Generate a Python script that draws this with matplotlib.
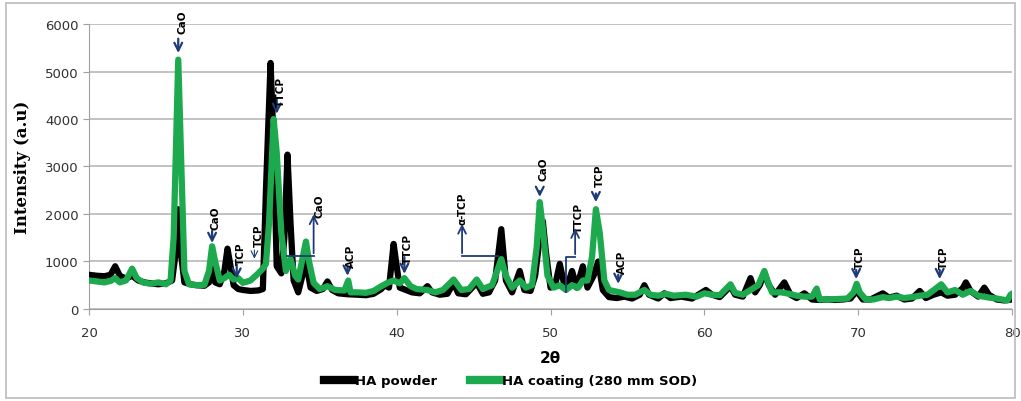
import matplotlib
matplotlib.use('Agg')
import matplotlib.pyplot as plt
from matplotlib.patches import Rectangle

# HA powder (black)
powder_x = [20.0, 20.5, 21.0, 21.4, 21.7, 22.0, 22.4, 22.8, 23.2, 23.6, 24.0, 24.5, 25.0, 25.4,
            25.6, 25.8, 26.0, 26.2, 26.6, 27.0, 27.5, 27.8, 28.0, 28.2, 28.5, 28.8, 29.0, 29.2,
            29.4, 29.7, 30.0, 30.5, 31.0, 31.3, 31.5, 31.8, 32.0, 32.2, 32.5, 32.7, 32.9, 33.1,
            33.3, 33.6, 34.1, 34.4, 34.8, 35.2, 35.5, 35.8, 36.2, 36.8, 37.5, 38.0, 38.5, 39.0,
            39.2, 39.5, 39.8, 40.0, 40.2, 40.6, 41.0, 41.5, 42.0, 42.3, 42.8, 43.3, 43.7, 44.0,
            44.5, 45.2, 45.6, 46.0, 46.4, 46.8, 47.1, 47.5, 48.0, 48.3, 48.7, 49.0, 49.3, 49.5,
            49.7, 50.0, 50.3, 50.6, 50.9, 51.2, 51.4, 51.7, 52.1, 52.4, 52.8, 53.1, 53.4, 53.8,
            54.3, 54.8, 55.3, 55.8, 56.1, 56.4, 57.0, 57.4, 57.8, 58.5, 59.2, 59.8, 60.1, 60.5,
            61.0, 61.7, 62.0, 62.5, 63.0, 63.3, 63.6, 63.9, 64.2, 64.6, 65.2, 65.6, 66.0, 66.5,
            67.0, 67.5, 68.0, 68.5, 69.0, 69.5, 69.9, 70.3, 70.8, 71.6, 72.0, 72.5, 73.0, 73.5,
            74.0, 74.4, 74.9, 75.4, 75.8, 76.3, 76.8, 77.0, 77.3, 77.8, 78.2, 78.5, 79.0, 79.5,
            80.0]
powder_y = [720, 700, 690, 720, 900, 700, 640, 700, 600, 560, 540, 520, 540, 600,
            1100, 2100, 1100, 560, 520, 500, 490, 560, 900, 560, 520, 800, 1270, 900,
            500, 420, 400, 380, 390, 420, 2500, 5180, 3500, 900, 750, 1500, 3250, 1800,
            600, 350, 1000, 450, 380, 420, 580, 400, 330, 310, 300, 290, 320, 420,
            500, 450, 1370, 900, 450, 400, 350, 330, 480, 350, 300, 320, 550, 330,
            310, 550, 320, 350, 600, 1680, 600, 350, 800, 400, 380, 700, 1500, 1850,
            1200, 450, 500, 950, 500, 600, 800, 450, 900, 450, 700, 1000, 400, 250,
            230, 260, 220, 300, 500, 300, 220, 330, 230, 260, 220, 340, 400, 300,
            250, 480, 300, 260, 650, 350, 500, 750, 500, 300, 560, 300, 230, 330,
            200, 190, 200, 190, 200, 220, 380, 200, 200, 330, 240, 280, 200, 220,
            380, 230, 300, 350, 280, 300, 440, 560, 380, 260, 450, 300, 200, 180,
            200]

# HA coating (280 mm SOD) (green)
coating_x = [20.0, 20.5, 21.0, 21.4, 21.7, 22.0, 22.4, 22.8, 23.1, 23.5, 24.0, 24.5, 25.0, 25.3,
             25.5, 25.8, 26.0, 26.2, 26.5, 27.0, 27.5, 27.8, 28.0, 28.2, 28.5, 28.8, 29.1, 29.4,
             29.7, 30.0, 30.5, 31.0, 31.3, 31.5, 31.7, 32.0, 32.2, 32.5, 32.8, 33.1, 33.4, 33.6,
             33.9, 34.1, 34.3, 34.6, 35.0, 35.5, 36.0, 36.6, 36.85, 37.0, 37.5, 38.0, 38.5, 39.0,
             39.4, 39.8, 40.2, 40.5, 40.9, 41.3, 42.0, 42.5, 43.0, 43.7, 44.2, 44.7, 45.2, 45.6,
             46.2, 46.8, 47.1, 47.5, 48.0, 48.4, 48.8, 49.1, 49.3, 49.5, 49.8, 50.2, 50.6, 51.0,
             51.4, 51.8, 52.1, 52.4, 52.7, 52.95, 53.2, 53.5, 53.8, 54.5, 55.0, 55.5, 56.1, 56.5,
             57.0, 57.5, 58.0, 58.8, 59.5, 60.0, 60.5, 61.0, 61.7, 62.0, 62.5, 63.0, 63.5, 63.9,
             64.1, 64.4, 65.0, 65.5, 66.0, 66.5, 67.0, 67.3, 67.5, 68.0, 68.7, 69.3, 69.7, 69.9,
             70.1, 70.5, 71.0, 71.6, 72.0, 72.5, 73.0, 73.5, 74.0, 74.5, 75.0, 75.4, 75.8, 76.3,
             76.8, 77.3, 77.8, 78.5, 79.0, 79.7, 79.9, 80.0]
coating_y = [600, 580, 560, 590, 650, 560, 600, 850, 650, 560, 530, 560, 520, 600,
             1500, 5250, 3000, 800, 520, 500, 510, 800, 1320, 1000, 600, 650, 720, 620,
             650, 550, 600, 750, 850, 950, 1800, 4000, 3300, 1600, 800, 1050, 700, 620,
             1100, 1420, 1000, 550, 420, 480, 400, 390, 600, 350, 350, 340, 380, 480,
             550, 600, 540, 650, 480, 420, 400, 350, 400, 620, 400, 420, 620, 420,
             500, 1050, 700, 450, 600, 450, 500, 1300, 2250, 1700, 700, 450, 500, 400,
             500, 450, 600, 600, 1100, 2100, 1600, 600, 400, 350, 300, 300, 400, 300,
             280, 320, 280, 300, 260, 330, 300, 290, 520, 340, 300, 400, 500, 800,
             600, 350, 350, 320, 280, 260, 260, 430, 200, 200, 210, 220, 350, 530,
             350, 200, 200, 250, 230, 260, 230, 250, 280, 300, 420, 520, 350, 400,
             300, 380, 280, 240, 220, 180, 300, 320]

# simple phase labels: (text, x, arrow tail y, arrow head y, text y)
labels = [
    ('CaO', 25.8, 5750, 5330, 6300),
    ('CaO', 28.0, 1700, 1330, 2180),
    ('TCP', 29.6, 1000, 580, 1420),
    ('TTCP', 32.2, 4480, 4050, 4900),
    ('ACP', 36.8, 940, 640, 1380),
    ('TTCP', 40.5, 1150, 680, 1590),
    ('CaO', 49.3, 2540, 2300, 3220),
    ('TCP', 52.95, 2490, 2190, 3070),
    ('ACP', 54.4, 780, 470, 1240),
    ('TCP', 69.87, 880, 570, 1340),
    ('TCP', 75.3, 880, 570, 1340),
]

navy = '#1F3A78'
green = '#1DAA4F'

fig = plt.figure(figsize=(10.21, 4.02), dpi=100)
ax = fig.add_axes([0.0872, 0.2289, 0.904, 0.7089])

ax.plot(powder_x, powder_y, color='black', lw=4.5, solid_joinstyle='round', label='HA powder', zorder=3)
ax.plot(coating_x, coating_y, color=green, lw=4.5, solid_joinstyle='round',
        label='HA coating (280 mm SOD)', zorder=4)

ax.set_xlim(20, 80)
ax.set_ylim(0, 6000)
ax.set_xticks(range(20, 81, 10))
ax.set_yticks(range(0, 6001, 1000))
ax.yaxis.grid(True, color='#BDBDBD', lw=1.3)
ax.set_axisbelow(True)
for s in ['top', 'right']:
    ax.spines[s].set_visible(False)
ax.spines['left'].set_color('#A0A0A0')
ax.spines['bottom'].set_color('#A0A0A0')
ax.tick_params(colors='#A0A0A0', labelcolor='#303030', labelsize=9.5, length=4)
ax.tick_params(axis='x', pad=8)

ax.set_ylabel('Intensity (a.u)', family='DejaVu Serif', fontweight='bold', fontsize=12, labelpad=10)
ax.set_xlabel('2θ', fontweight='bold', fontsize=11, labelpad=8)

for txt, x, y0, y1, ty in labels:
    ax.annotate('', xy=(x, y1), xytext=(x, y0),
                arrowprops=dict(arrowstyle='->', color=navy, lw=1.6, mutation_scale=14),
                zorder=6, annotation_clip=False)
    ax.text(x + 0.25, ty, txt, rotation=90, ha='center', va='top', fontsize=7.5,
            fontweight='bold', zorder=6, clip_on=False)

# thin TCP arrow near 30.8
ax.annotate('', xy=(30.75, 1000), xytext=(30.75, 1300),
            arrowprops=dict(arrowstyle='->', color=navy, lw=0.8, mutation_scale=12), zorder=6)
ax.text(31.05, 1800, 'TCP', rotation=90, ha='center', va='top', fontsize=7.5, fontweight='bold')

# bracket arrows
ax.plot([32.9, 34.6], [1115, 1115], color=navy, lw=1.3, zorder=6)
ax.annotate('', xy=(34.6, 2050), xytext=(34.6, 1115),
            arrowprops=dict(arrowstyle='->', color=navy, lw=1.3, mutation_scale=14), zorder=6)
ax.text(34.95, 2430, 'CaO', rotation=90, ha='center', va='top', fontsize=7.5, fontweight='bold')

ax.plot([44.25, 46.6], [1115, 1115], color=navy, lw=1.3, zorder=6)
ax.annotate('', xy=(44.25, 1850), xytext=(44.25, 1115),
            arrowprops=dict(arrowstyle='->', color=navy, lw=1.3, mutation_scale=14), zorder=6)
ax.text(44.3, 2480, 'α-TCP', rotation=90, ha='center', va='top', fontsize=7.5, fontweight='bold')

ax.plot([51.0, 51.0, 51.6], [360, 1095, 1095], color=navy, lw=1.3, zorder=6)
ax.annotate('', xy=(51.6, 1760), xytext=(51.6, 1095),
            arrowprops=dict(arrowstyle='->', color=navy, lw=1.3, mutation_scale=14), zorder=6)
ax.text(51.85, 2250, 'TTCP', rotation=90, ha='center', va='top', fontsize=7.5, fontweight='bold')

fig.legend(loc='center', bbox_to_anchor=(0.5, 0.05), ncol=2, frameon=False,
           handlelength=2.2, columnspacing=2.5, handletextpad=0.2,
           prop={'weight': 'bold', 'size': 9.5})
for h in fig.legends[0].get_lines():
    h.set_linewidth(6)

fig.patches.append(Rectangle((0.006, 0.008), 0.988, 0.982, transform=fig.transFigure,
                             fill=False, edgecolor='#BBBBBB', lw=1.2))

fig.savefig('out.png', dpi=100)
